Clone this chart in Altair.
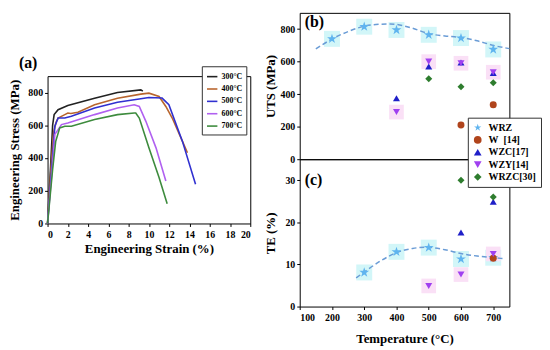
import altair as alt
import pandas as pd

FONT = "Liberation Serif, Times New Roman, serif"

# ---------------- Panel (a): stress-strain curves ----------------
temps = ["300°C", "400°C", "500°C", "600°C", "700°C"]
temp_colors = ["#222222", "#b8652e", "#3030d0", "#b060f0", "#3d8b3d"]

strain_300 = [0, 0.3, 0.5, 0.65, 1.04, 2.0, 4.64, 6.9, 9.2, 9.4]
stress_300 = [0, 350, 600, 665, 695, 721, 765, 800, 816, 808]

strain_400 = [0, 0.35, 0.6, 0.85, 1.04, 1.7, 2.0, 2.3, 3.0, 4.64, 6.9, 9.2, 10.0, 11.0, 11.67, 12.3, 13.3, 13.8]
stress_400 = [0, 350, 560, 620, 644, 665, 675, 672, 680, 725, 765, 790, 796, 776, 715, 644, 503, 432]

strain_500 = [0, 0.4, 0.72, 1.04, 1.7, 2.35, 4.64, 6.9, 9.2, 10.0, 11.3, 11.97, 13.3, 14.6]
stress_500 = [0, 330, 594, 644, 644, 655, 705, 741, 762, 770, 766, 725, 503, 240]

strain_600 = [0, 0.45, 0.72, 1.37, 2.0, 4.64, 6.9, 8.55, 9.05, 9.7, 10.7, 11.67]
stress_600 = [0, 330, 544, 604, 614, 665, 705, 725, 715, 624, 462, 260]

strain_700 = [0, 0.5, 0.8, 1.2, 1.7, 2.35, 4.64, 6.9, 8.55, 8.7, 9.05, 10.0, 11.0, 11.8]
stress_700 = [0, 330, 500, 584, 594, 594, 635, 665, 675, 675, 644, 462, 281, 120]

rows = []
for t, xs, ys in zip(temps,
                     [strain_300, strain_400, strain_500, strain_600, strain_700],
                     [stress_300, stress_400, stress_500, stress_600, stress_700]):
    for i, (x, y) in enumerate(zip(xs, ys)):
        rows.append({"temp": t, "strain": x, "stress": y, "order": i})
df_a = pd.DataFrame(rows)

# ---------------- Panels (b), (c): UTS and TE vs temperature ----------------
alloys = ["WRZ", "W\u00a0\u00a0[14]", "WZC[17]", "WZY[14]", "WRZC[30]"]
alloy_colors = ["#5fb4ef", "#b0441c", "#1f1fc8", "#a040f0", "#2e7d2e"]
star = "M0,-1L0.2245,-0.309L0.951,-0.309L0.363,0.118L0.588,0.809L0,0.382L-0.588,0.809L-0.363,0.118L-0.951,-0.309L-0.2245,-0.309Z"
alloy_shapes = [star, "circle", "triangle-up", "triangle-down", "diamond"]

# UTS (MPa)
uts_wrz_t = [200, 300, 400, 500, 600, 700]
uts_wrz = [740, 815, 795, 765, 745, 675]
uts_w_t = [600, 700]
uts_w = [210, 335]
uts_wzc_t = [400, 500, 600, 700]
uts_wzc = [375, 570, 595, 530]
uts_wzy_t = [400, 500, 600, 700]
uts_wzy = [290, 600, 590, 535]
uts_wrzc_t = [500, 600, 700]
uts_wrzc = [495, 445, 470]
uts_fit_t = [150, 200, 250, 300, 350, 380, 400, 450, 500, 550, 600, 650, 700, 750]
uts_fit = [678, 739, 785, 818, 830, 832, 829, 805, 772, 758, 748, 728, 700, 680]

# TE (%)
te_wrz_t = [300, 400, 500, 600, 700]
te_wrz = [8.1, 13.0, 14.0, 11.3, 11.6]
te_w_t = [700]
te_w = [11.5]
te_wzc_t = [600, 700]
te_wzc = [17.6, 24.9]
te_wzy_t = [500, 600, 700]
te_wzy = [4.9, 7.6, 12.5]
te_wrzc_t = [600, 700]
te_wrzc = [30.0, 26.0]
te_fit_t = [275, 300, 350, 400, 450, 493, 550, 600, 650, 700, 730]
te_fit = [6.8, 8.2, 10.8, 12.8, 13.8, 14.1, 13.5, 12.6, 12.0, 11.6, 11.4]


def long_df(groups):
    out = []
    for name, ts, vs in groups:
        for t, v in zip(ts, vs):
            out.append({"alloy": name, "temp": t, "value": v})
    return pd.DataFrame(out)


df_uts = long_df([(alloys[0], uts_wrz_t, uts_wrz), (alloys[1], uts_w_t, uts_w),
                  (alloys[2], uts_wzc_t, uts_wzc), (alloys[3], uts_wzy_t, uts_wzy),
                  (alloys[4], uts_wrzc_t, uts_wrzc)])
df_te = long_df([(alloys[0], te_wrz_t, te_wrz), (alloys[1], te_w_t, te_w),
                 (alloys[2], te_wzc_t, te_wzc), (alloys[3], te_wzy_t, te_wzy),
                 (alloys[4], te_wrzc_t, te_wrzc)])
df_uts_fit = pd.DataFrame({"temp": uts_fit_t, "value": uts_fit})
df_te_fit = pd.DataFrame({"temp": te_fit_t, "value": te_fit})

AX = dict(labelFont=FONT, labelFontWeight="bold", labelFontSize=10, labelColor="black",
          titleFont=FONT, titleFontWeight="bold", titleFontSize=13, titleColor="black",
          domain=False, grid=False, ticks=True, tickSize=3, tickColor="black")

# ---------------- Build panel (a) ----------------
legend_a = alt.Legend(title=None, orient="none", legendX=156, legendY=-10,
                      symbolType="stroke", symbolSize=110, symbolStrokeWidth=1.6,
                      labelFontSize=8, labelFont=FONT, labelFontWeight="bold",
                      fillColor="white", strokeColor="#333333", padding=4,
                      rowPadding=1.5, labelOffset=3)

a = alt.Chart(df_a).mark_line(strokeWidth=1.6).encode(
    x=alt.X("strain:Q", scale=alt.Scale(domain=[0, 20], nice=False),
            axis=alt.Axis(values=list(range(0, 21, 2)), title="Engineering Strain (%)",
                          titlePadding=3, labelPadding=3, **AX)),
    y=alt.Y("stress:Q", scale=alt.Scale(domain=[0, 900], nice=False),
            axis=alt.Axis(values=[0, 200, 400, 600, 800], title="Engineering Stress (MPa)",
                          titleX=-26, labelPadding=2, **AX)),
    color=alt.Color("temp:N", scale=alt.Scale(domain=temps, range=temp_colors), legend=legend_a),
    order="order:Q",
).properties(
    width=205, height=149,
    title=alt.Title("(a)", anchor="start", frame="group", dx=-29, offset=-5,
                    fontSize=16, font=FONT, fontWeight="bold"),
)

spacer = alt.Chart(pd.DataFrame({"v": [0]})).mark_rect(opacity=0).encode(
    x=alt.value(0), x2=alt.value(205), y=alt.value(0), y2=alt.value(64)
).properties(width=205, height=64, view=alt.ViewConfig(strokeOpacity=0))

left = alt.vconcat(spacer, a, spacing=0, bounds="flush").resolve_scale(
    color="independent")

# ---------------- Build panels (b), (c) ----------------
xscale_t = alt.Scale(domain=[100, 750], nice=False)
color_scale = alt.Scale(domain=alloys, range=alloy_colors)
shape_scale = alt.Scale(domain=alloys, range=alloy_shapes)

legend_bc = alt.Legend(title=None, orient="none", legendX=170, legendY=-42,
                       symbolSize=60, labelFontSize=10, labelFont=FONT, labelFontWeight="bold",
                       fillColor="white", strokeColor="#333333", padding=5,
                       rowPadding=2.5, labelOffset=6)


def panel(df, fit_df, ydomain, yvalues, ytitle, xaxis, legend, title_txt, title_off, height):
    base_x = alt.X("temp:Q", scale=xscale_t, axis=xaxis)
    yenc = alt.Y("value:Q", scale=alt.Scale(domain=ydomain, nice=False),
                 axis=alt.Axis(values=yvalues, title=ytitle, titleX=-23, labelPadding=2, **AX))
    halo_wrz = alt.Chart(df[df["alloy"] == alloys[0]]).mark_square(
        size=260, opacity=1, color="#d2f6f8").encode(x=base_x, y=yenc)
    halo_wzy = alt.Chart(df[df["alloy"] == alloys[3]]).mark_square(
        size=220, opacity=1, color="#fae0f6").encode(x=base_x, y=yenc)
    fit = alt.Chart(fit_df).mark_line(color="#6a9cd6", strokeDash=[5, 3], strokeWidth=1.5,
                                      interpolate="monotone").encode(x=base_x, y=yenc)
    pts = alt.Chart(df).mark_point(filled=True, opacity=1).encode(
        x=base_x, y=yenc,
        color=alt.Color("alloy:N", scale=color_scale, legend=legend),
        shape=alt.Shape("alloy:N", scale=shape_scale, legend=legend),
        size=alt.condition(alt.datum.alloy == alloys[0], alt.value(110), alt.value(50)),
    )
    return alt.layer(halo_wrz, halo_wzy, fit, pts).properties(
        width=212, height=height,
        title=alt.Title(title_txt, anchor="start", frame="group", dx=5, offset=title_off,
                        fontSize=16, font=FONT, fontWeight="bold"),
    )


b = panel(df_uts, df_uts_fit, [0, 900], [0, 200, 400, 600, 800], "UTS (MPa)",
          None, None, "(b)", -17, 148)
c = panel(df_te, df_te_fit, [0, 35], [0, 10, 20, 30], "TE (%)",
          alt.Axis(values=[100, 200, 300, 400, 500, 600, 700], title="Temperature (°C)",
                   titlePadding=10, labelPadding=3, **AX),
          legend_bc, "(c)", -72, 149)

right = alt.vconcat(b, c, spacing=0, bounds="flush").resolve_scale(
    color="independent", shape="independent")

chart = alt.hconcat(left, right, spacing=12).resolve_scale(
    color="independent", shape="independent"
).properties(
    padding={"left": 0, "top": 2, "right": 0, "bottom": 0}
).configure_view(
    stroke="black", strokeWidth=1
)

chart.save("out.html", embed_options={"renderer": "svg", "actions": False})
